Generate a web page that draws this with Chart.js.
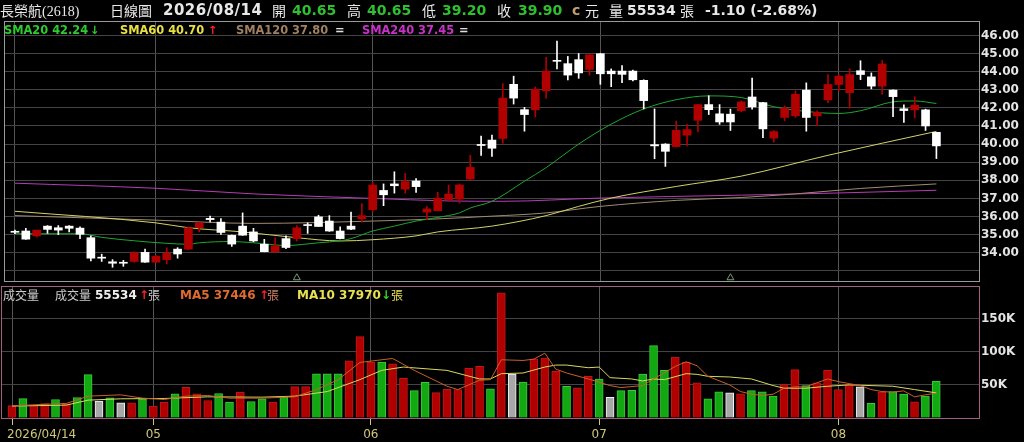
<!DOCTYPE html>
<html>
<head>
<meta charset="utf-8">
<script src="https://cdn.jsdelivr.net/npm/chart.js@4.4.1/dist/chart.umd.min.js"></script>
<style>
  html, body { margin: 0; padding: 0; background: #000; width: 1024px; height: 442px; overflow: hidden; }
  body { position: relative; font-family: "DejaVu Sans", Verdana, sans-serif; }
  #priceBox { position: absolute; left: 0; top: 0; width: 1024px; height: 286px; }
  #volBox { position: absolute; left: 0; top: 284px; width: 1024px; height: 158px; }
  .t { position: absolute; white-space: nowrap; line-height: 16px; }
  .cjk { font-family: "Noto Sans CJK TC", sans-serif; }
  .hd { top: 2px; font-size: 14px; color: #e8e8e8; }
  .hb { font-weight: bold; }
  .g { color: #2fc02f; }
  .lg { top: 23px; font-size: 11.4px; font-weight: bold; line-height: 14px; }
  .vl { top: 287px; font-size: 12px; line-height: 16px; }
</style>
</head>
<body>
<div id="priceBox"><canvas id="price"></canvas></div>
<div id="volBox"><canvas id="vol"></canvas></div>

<!-- 標題列 -->
<span class="t hd cjk" style="left:0">長榮航<span style="font-family:'Liberation Serif'">(2618)</span></span>
<span class="t hd cjk" style="left:110px">日線圖</span>
<span class="t hd hb" style="left:163px;font-size:15px;letter-spacing:0.5px">2026/08/14</span>
<span class="t hd cjk" style="left:272px">開</span>
<span class="t hd hb g" style="left:292px">40.65</span>
<span class="t hd cjk" style="left:347px">高</span>
<span class="t hd hb g" style="left:367px">40.65</span>
<span class="t hd cjk" style="left:422px">低</span>
<span class="t hd hb g" style="left:442px">39.20</span>
<span class="t hd cjk" style="left:497px">收</span>
<span class="t hd hb g" style="left:518px">39.90</span>
<span class="t hd hb" style="left:572px;color:#c0a070">c</span>
<span class="t hd cjk" style="left:585px">元</span>
<span class="t hd cjk" style="left:609px">量</span>
<span class="t hd hb" style="left:627px">55534</span>
<span class="t hd cjk" style="left:680px">張</span>
<span class="t hd hb" style="left:705px">-1.10 (-2.68%)</span>

<!-- 均線說明 -->
<span class="t lg" style="left:4px;color:#2ccc2c">SMA20 42.24</span>
<span class="t lg" style="left:90px;color:#2ccc2c">↓</span>
<span class="t lg" style="left:120px;color:#e8e040">SMA60 40.70</span>
<span class="t lg" style="left:208px;color:#ff2020">↑</span>
<span class="t lg" style="left:236px;color:#a08060">SMA120 37.80</span>
<span class="t lg" style="left:335px;color:#dddddd">=</span>
<span class="t lg" style="left:362px;color:#c832c8">SMA240 37.45</span>
<span class="t lg" style="left:459px;color:#dddddd">=</span>

<!-- 成交量說明 -->
<span class="t vl cjk" style="left:3px;color:#cccccc">成交量</span>
<span class="t vl cjk" style="left:55px;color:#cccccc">成交量</span>
<span class="t vl hb" style="left:95px;color:#f0f0f0">55534</span>
<span class="t vl hb" style="left:139px;color:#ff2020">↑</span>
<span class="t vl cjk" style="left:148px;color:#cccccc">張</span>
<span class="t vl hb" style="left:180px;color:#e06a30">MA5 37446</span>
<span class="t vl hb" style="left:259px;color:#ff2020">↑</span>
<span class="t vl cjk" style="left:267px;color:#d08060">張</span>
<span class="t vl hb" style="left:297px;color:#e8e050">MA10 37970</span>
<span class="t vl hb" style="left:381px;color:#30d030">↓</span>
<span class="t vl cjk" style="left:391px;color:#e8e050">張</span>

<script>
// 交易日 (2026)
const year = "2026";
const dates = [
  "04/14","04/15","04/16","04/17","04/20","04/21","04/22","04/23","04/24","04/27","04/28","04/29","04/30",
  "05/04","05/05","05/06","05/07","05/08","05/11","05/12","05/13","05/14","05/15",
  "05/18","05/19","05/20","05/21","05/22","05/25","05/26","05/27","05/28","05/29",
  "06/01","06/02","06/03","06/04","06/05","06/08","06/09","06/10","06/11","06/12",
  "06/15","06/16","06/17","06/18","06/22","06/23","06/24","06/25","06/26","06/29","06/30",
  "07/01","07/02","07/03","07/06","07/07","07/08","07/09","07/10","07/13","07/14","07/15",
  "07/16","07/17","07/20","07/21","07/22","07/23","07/24","07/27","07/28","07/29","07/30",
  "08/03","08/04","08/05","08/06","08/07","08/10","08/11","08/12","08/13","08/14"
];

const opens = [35.17,35.20,34.93,35.47,35.38,35.47,35.36,34.83,33.75,33.50,
  33.45,33.52,34.02,33.48,33.62,34.20,34.20,35.38,35.90,35.69,
  34.96,35.47,35.15,34.47,34.05,34.78,34.78,35.54,35.98,35.75,
  35.20,35.47,35.87,36.38,37.44,37.80,37.51,37.96,36.24,36.32,
  36.92,36.96,38.07,39.98,40.22,40.31,43.30,41.90,41.89,42.94,
  44.62,44.44,44.66,44.12,44.99,44.03,44.03,44.03,43.52,39.97,
  40.00,39.86,40.49,41.31,42.18,41.67,41.65,41.84,42.60,42.29,
  40.33,41.47,41.56,42.98,41.56,42.44,43.29,42.84,44.05,43.71,
  43.20,42.98,41.95,41.89,41.89,40.65];
const highs = [35.25,35.35,35.25,35.50,35.50,35.50,35.43,34.93,33.92,33.62,
  33.58,34.05,34.20,33.87,34.27,34.28,35.42,35.68,36.02,35.89,
  34.98,36.20,35.35,34.74,34.83,34.93,35.50,35.65,36.07,36.05,
  35.43,36.25,36.71,37.89,37.80,38.47,38.38,38.10,36.56,37.34,
  37.74,37.80,39.38,40.44,40.50,43.34,43.75,42.03,43.16,44.79,
  45.69,44.84,45.00,44.97,45.00,44.15,44.33,44.08,43.55,41.94,
  40.02,41.27,41.09,42.20,42.67,42.18,41.93,42.38,43.65,42.30,
  40.75,42.11,42.93,43.38,41.84,43.84,43.84,44.16,44.60,43.93,
  44.62,43.00,42.16,42.62,41.93,40.65];
const lows = [35.05,34.74,34.87,35.07,35.00,35.15,34.78,33.55,33.52,33.20,
  33.25,33.47,33.47,33.47,33.38,33.70,34.16,35.15,35.70,35.01,
  34.35,34.96,34.60,34.05,34.02,34.23,34.65,35.07,35.45,35.18,
  34.76,35.28,35.69,36.25,36.60,37.29,37.29,37.33,35.83,36.30,
  36.84,36.74,38.02,39.38,39.32,40.04,42.21,40.71,41.49,42.54,
  44.15,43.54,43.63,43.81,43.30,43.17,43.39,43.48,41.94,39.19,
  38.77,39.83,39.90,40.67,41.63,41.09,40.75,41.78,41.93,40.35,
  40.11,41.29,41.47,40.71,41.02,42.29,42.93,41.98,43.56,43.05,
  42.75,41.51,41.20,41.44,40.75,39.20];
const closes = [35.13,34.75,35.25,35.29,35.25,35.35,35.02,33.70,33.70,33.42,
  33.42,34.00,33.48,33.80,33.98,33.93,35.38,35.65,35.83,35.12,
  34.48,34.97,34.65,34.06,34.38,34.29,35.38,35.50,35.45,35.20,
  34.78,35.30,36.05,37.74,37.20,37.70,37.93,37.65,36.42,37.02,
  37.24,37.74,38.71,39.92,39.77,42.54,42.54,41.63,43.03,44.03,
  44.57,43.81,43.93,44.93,43.88,43.88,43.85,43.55,42.40,39.90,
  39.60,40.76,40.80,42.18,41.90,41.22,41.22,42.33,42.05,40.84,
  40.69,41.98,42.75,41.47,41.75,43.29,43.75,43.84,43.84,43.20,
  44.42,42.62,41.85,42.15,41.00,39.90];

// 成交量 (張) 與漲跌方向 r=漲 g=跌 n=平
const volumes = [18900,29400,18900,21900,27900,21400,31000,65500,25400,30400,
  22900,22900,28900,17900,23900,36400,46400,36400,26400,37000,
  23900,39000,25000,28900,23900,31400,47400,47400,66900,66900,
  66900,86400,123000,84400,84400,82000,60000,41400,54000,38400,
  43400,42900,75400,78000,44000,189000,66400,54400,89000,90500,
  70500,48000,45500,63000,59000,31400,41400,41900,66400,109500,
  72000,92000,84000,53000,29000,39500,38000,36400,41400,39500,
  33000,50400,73000,49000,53000,72000,43000,50400,47000,22000,
  39000,40000,36000,24400,33000,55534];
const volDir = "rgrrgrggng" + "nrgrrgrrrg" + "grggrgrrgg" + "grrrgrrggr" + "rrrrgrngrr" +
               "rgrrgngggg" + "grrrggnrgg" + "grrgrrrrng" + "rggrgg";

// 均線 [交易日序, 數值]
const sma20 = [[0,35.05],[6,35.05],[8,34.85],[11,34.66],[14,34.52],[16,34.47],[17,34.55],[20,34.62],
  [22,34.55],[25,34.40],[28,34.55],[30,34.66],[31,34.78],[33,35.20],[35,35.47],[37,35.75],[39,35.95],
  [41,36.20],[42,36.47],[44,36.84],[47,37.95],[49,38.70],[52,40.00],[55,41.10],[58,41.94],[61,42.45],
  [64,42.66],[67,42.57],[70,42.06],[73,41.80],[76,41.69],[78,41.84],[81,42.33],[83,42.38],[85,42.24]];
const sma60 = [[0,36.29],[13,35.65],[16,35.38],[21,35.15],[26,34.83],[30,34.65],[33,34.72],[37,34.93],
  [39,35.15],[44,35.47],[49,36.05],[52,36.56],[55,37.02],[61,37.66],[67,38.23],[75,39.38],[85,40.70]];
const sma120 = [[0,36.05],[13,35.80],[22,35.62],[33,35.75],[39,35.87],[44,36.02],[49,36.20],[54,36.56],
  [61,36.89],[67,37.05],[72,37.25],[78,37.55],[85,37.80]];
const sma240 = [[0,37.84],[13,37.56],[22,37.25],[33,37.00],[40,36.86],[45,36.84],[54,37.02],[67,37.18],
  [76,37.30],[85,37.45]];
const volMa5 = [[0,18500],[5,22000],[7,33000],[10,35000],[12,30000],[14,28000],[16,33000],[18,34000],
  [20,30000],[23,30000],[26,32000],[28,43000],[30,58000],[32,84000],[35,90000],[37,72000],[40,48000],
  [41,43000],[43,57000],[44,58000],[45,88000],[47,87000],[48,89000],[49,98000],[50,74000],[51,68000],
  [53,59000],[55,49000],[56,46000],[58,49000],[59,59000],[61,78000],[62,85000],[63,79000],[64,63000],
  [66,50000],[67,40000],[68,36000],[69,34000],[70,36000],[71,45000],[72,47000],[73,47000],[74,53000],
  [75,59000],[76,55000],[77,52000],[78,49000],[79,43000],[80,40000],[81,39000],[82,41000],[83,32000],
  [84,35000],[85,37446]];
const volMa10 = [[0,18000],[5,19500],[7,27000],[10,29000],[14,29500],[18,32000],[23,31500],[26,33000],
  [29,40000],[32,58000],[34,72000],[36,77000],[40,72000],[43,59000],[44,59000],[45,67000],[47,68000],
  [49,77000],[50,80000],[51,80000],[53,76000],[54,77000],[55,61000],[57,59000],[58,56000],[59,59000],
  [60,58000],[62,67000],[63,66000],[64,63000],[66,62000],[68,59000],[70,49000],[71,45000],[73,45000],
  [75,48000],[77,50000],[79,49000],[81,48000],[83,43000],[85,37970]];
const markIdx = [26, 66];
const markLevel = 32.62;

const priceTicks = [33,34,35,36,37,38,39,40,41,42,43,44,45,46];
const volTicks = [0, 50000, 100000, 150000];

// 月份分隔
const monthIdx = dates.map((d, i) => i).filter(i => i === 0 || dates[i].slice(0, 2) !== dates[i - 1].slice(0, 2));

const X_MIN = -0.92, X_MAX = 88.93;
const FONT = '"DejaVu Sans", Verdana, sans-serif';

const pts = arr => arr.map(p => ({ x: p[0], y: p[1] }));
const candleColor = closes.map((c, i) => (c > opens[i] ? "#b00000" : "#ffffff"));

function frame(color) {
  return {
    id: "frame",
    afterDraw(chart) {
      const { ctx, chartArea: a } = chart;
      ctx.save();
      ctx.strokeStyle = color;
      ctx.lineWidth = 1;
      ctx.strokeRect(a.left - 0.5, a.top - 0.5, a.right - a.left + 1, a.bottom - a.top + 1);
      ctx.restore();
    },
  };
}

// 右側刻度固定寬度, 不讓刻度字撐開繪圖區
function fixRightAxis(s) {
  s.width = 45;
  s.paddingTop = 0;
  s.paddingBottom = 0;
}

function xAxis(extra) {
  return Object.assign({
    type: "linear",
    min: X_MIN,
    max: X_MAX,
    offset: false,
    afterBuildTicks: (s) => { s.ticks = monthIdx.map(v => ({ value: v })); },
    afterFit: (s) => { s.paddingLeft = 0; s.paddingRight = 0; },
    ticks: { display: false },
    grid: { color: "#555555", offset: false, drawTicks: false },
    border: { display: false },
  }, extra);
}

function lineSet(data, color, smooth) {
  return {
    type: "line",
    data: pts(data),
    borderColor: color,
    borderWidth: 1,
    pointRadius: 0,
    fill: false,
    cubicInterpolationMode: smooth ? "monotone" : "default",
    tension: 0,
  };
}

// K線圖
new Chart(document.getElementById("price"), {
  type: "bar",
  data: {
    datasets: [
      {
        type: "scatter",
        data: markIdx.map(i => ({ x: i, y: markLevel })),
        pointStyle: "triangle",
        pointRadius: 4,
        borderColor: "#7a9a7a",
        backgroundColor: "rgba(0,0,0,0)",
        borderWidth: 1,
      },
      {
        data: closes.map((c, i) => ({ x: i, y: [opens[i], c] })),
        backgroundColor: candleColor,
        barThickness: 8,
        minBarLength: 1,
        grouped: false,
      },
      {
        data: lows.map((l, i) => ({ x: i, y: [l, highs[i]] })),
        backgroundColor: candleColor,
        barThickness: 1,
        grouped: false,
      },
      lineSet(sma20, "#1fa52f", true),
      lineSet(sma60, "#d2d26a", true),
      lineSet(sma120, "#a08a70", true),
      lineSet(sma240, "#b63cb6", true),
    ],
  },
  options: {
    responsive: true,
    maintainAspectRatio: false,
    animation: false,
    events: [],
    layout: { padding: { left: 2, top: 22, right: 0, bottom: 2 } },
    plugins: { legend: { display: false }, tooltip: { enabled: false } },
    scales: {
      x: xAxis({}),
      y: {
        position: "right",
        min: 32.44,
        max: 46.74,
        afterBuildTicks: (s) => { s.ticks = priceTicks.map(v => ({ value: v })); },
        afterFit: fixRightAxis,
        ticks: {
          color: "#e4e4e4",
          padding: 2,
          font: { family: FONT, size: 12, weight: "bold" },
          callback: (v) => (v >= 34 ? v.toFixed(2) : ""),
        },
        grid: { color: "#444444", drawTicks: false },
        border: { display: false },
      },
    },
  },
  plugins: [frame("#9a9a9a")],
});

// 月份標籤
const monthLabels = {
  id: "monthLabels",
  afterDraw(chart) {
    const { ctx, chartArea: a, scales } = chart;
    ctx.save();
    ctx.font = "12px " + FONT;
    ctx.fillStyle = "#cfc77a";
    ctx.textBaseline = "middle";
    monthIdx.forEach((idx, k) => {
      const px = scales.x.getPixelForValue(idx);
      if (k === 0) {
        ctx.textAlign = "left";
        ctx.fillText(year + "/" + dates[idx], px - 5, a.bottom + 17);
      } else {
        ctx.textAlign = "center";
        ctx.fillText(dates[idx].slice(0, 2), px, a.bottom + 17);
      }
    });
    ctx.restore();
  },
};

const volFill = { r: "#b00000", g: "#12a812", n: "#a8a8a8" };
const volEdge = { r: "#c01818", g: "#3cc83c", n: "#f4f4f4" };

// 成交量圖
new Chart(document.getElementById("vol"), {
  type: "bar",
  data: {
    datasets: [
      lineSet(volMa5, "#c8602a", false),
      lineSet(volMa10, "#d8d860", false),
      {
        data: volumes.map((v, i) => ({ x: i, y: v })),
        backgroundColor: [...volDir].map(d => volFill[d]),
        borderColor: [...volDir].map(d => volEdge[d]),
        borderWidth: 1,
        barThickness: 8,
        grouped: false,
      },
    ],
  },
  options: {
    responsive: true,
    maintainAspectRatio: false,
    animation: false,
    events: [],
    layout: { padding: { left: 2, top: 3, right: 0, bottom: 17 } },
    plugins: { legend: { display: false }, tooltip: { enabled: false } },
    scales: {
      x: xAxis({
        grid: { color: "#555555", offset: false, drawTicks: true, tickLength: 7, tickColor: "#cfc77a" },
      }),
      y: {
        position: "right",
        min: 0,
        max: 198000,
        afterBuildTicks: (s) => { s.ticks = volTicks.map(v => ({ value: v })); },
        afterFit: fixRightAxis,
        ticks: {
          color: "#e4e4e4",
          padding: 2,
          font: { family: FONT, size: 12, weight: "bold" },
          callback: (v) => (v > 0 ? v / 1000 + "K" : ""),
        },
        grid: { color: "#444444", drawTicks: false },
        border: { display: false },
      },
    },
  },
  plugins: [frame("#a06080"), monthLabels],
});
</script>
</body>
</html>
